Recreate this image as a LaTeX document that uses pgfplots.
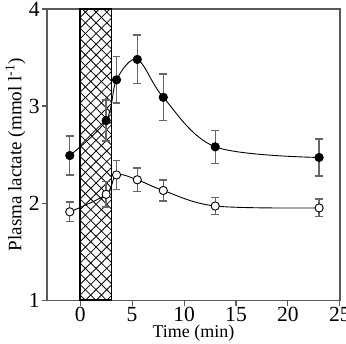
\documentclass[border=0pt]{standalone}
\usepackage{pgfplots}
\pgfplotsset{compat=1.18}
\usepackage{fontspec}
\setmainfont{Liberation Serif}
\usetikzlibrary{patterns.meta}
\begin{document}
\begin{tikzpicture}
\begin{axis}[
  name=ax,
  scale only axis,
  width=163pt, height=162pt,
  xmin=-3.2, xmax=25, ymin=1, ymax=4,
  xtick={0,5,10,15,20,25}, ytick={1,2,3,4},
  tick pos=left, tick align=outside,
  major tick length=3pt,
  axis line style={black!65, line width=0.7pt},
  every tick/.style={black!65, line width=0.6pt},
  /pgf/number format/assume math mode=true,
  tick label style={font=\fontsize{12}{12}\selectfont},
  xticklabel style={yshift=2.5pt},
  yticklabel style={xshift=2.5pt},
  xlabel={Time (min)},
  ylabel={Plasma lactate (mmol l\textsuperscript{-1})},
  xlabel style={yshift=5pt},
  ylabel style={yshift=-5pt, font=\fontsize{10.6}{10.6}\selectfont},
  clip=false,
]
\addplot[draw=none, pattern={Lines[angle=45,distance=4.2pt,line width=0.45pt]}] coordinates {(0,1) (3,1) (3,4) (0,4)} -- cycle;
\addplot[draw=black, line width=0.9pt, pattern={Lines[angle=-45,distance=4.2pt,line width=0.45pt]}] coordinates {(0,1) (3,1) (3,4) (0,4)} -- cycle;

\addplot[black, line width=0.5pt, smooth, tension=0.55, mark=*, mark size=2.3pt,
  mark options={fill=black},
  error bars/.cd, y dir=both, y explicit,
  error bar style={black!60, line width=0.8pt},
  error mark options={rotate=90, mark size=2.2pt, black!60, line width=0.8pt}]
  coordinates {
  (-1,2.49) +- (0,0.20)
  (2.5,2.85) +- (0,0.21)
  (3.5,3.27) +- (0,0.24)
  (5.5,3.48) +- (0,0.25)
  (8,3.09) +- (0,0.24)
  (13,2.58) +- (0,0.17)
  (23,2.47) +- (0,0.19)
  };
\addplot[black, line width=0.5pt, smooth, tension=0.55, mark=*, mark size=2.3pt,
  mark options={fill=white, draw=black, line width=0.5pt},
  error bars/.cd, y dir=both, y explicit,
  error bar style={black!60, line width=0.8pt},
  error mark options={rotate=90, mark size=2.2pt, black!60, line width=0.8pt}]
  coordinates {
  (-1,1.91) +- (0,0.10)
  (2.5,2.09) +- (0,0.13)
  (3.5,2.29) +- (0,0.15)
  (5.5,2.24) +- (0,0.12)
  (8,2.13) +- (0,0.11)
  (13,1.97) +- (0,0.09)
  (23,1.95) +- (0,0.09)
  };
\end{axis}
\pgfresetboundingbox
\path[use as bounding box] ([shift={(-26.1pt,-23.9pt)}]ax.south west) rectangle ([shift={(3.4pt,5pt)}]ax.north east);
\end{tikzpicture}
\end{document}
